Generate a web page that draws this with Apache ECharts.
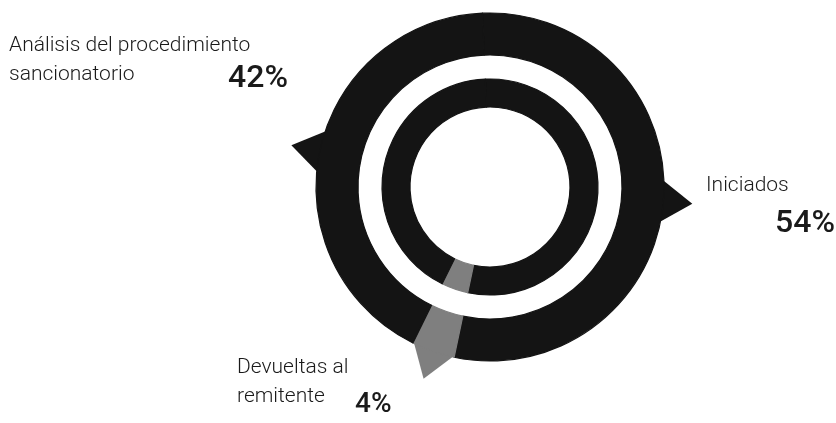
<!DOCTYPE html>
<html>
<head>
<meta charset="utf-8">
<script src="https://cdn.jsdelivr.net/npm/echarts@6/dist/echarts.min.js"></script>
<style>
  html, body { margin: 0; padding: 0; background: #fff; }
  #chart { width: 836px; height: 423px; }
</style>
</head>
<body>
<div id="chart"></div>
<script>
// slices, clockwise from the top
const categories = ['Iniciados', 'Devueltas al\nremitente', 'Análisis del procedimiento\nsancionatorio']
const values = [54, 4, 42]
const sliceColors = ['#141414', '#7f7f7f', '#141414']

const CENTER = [490, 187]
const START = 92.5 // echarts degrees, counter-clockwise from 3 o'clock
const FONT = 'Roboto, "Noto Sans", sans-serif'

const chart = echarts.init(document.getElementById('chart'))

const total = values.reduce((a, b) => a + b, 0)
let acc = 0
const midAngles = values.map(v => {
  const mid = (90 - START) + 360 * (acc + v / 2) / total
  acc += v
  return mid
})

const pieData = categories.map((name, i) => ({
  name,
  value: values[i],
  itemStyle: { color: sliceColors[i], borderColor: sliceColors[i], borderWidth: 1.2 }
}))

const pointerData = midAngles.map((a, i) => ({
  value: [183, a],
  symbolRotate: -a,
  itemStyle: { color: sliceColors[i], opacity: 1 }
}))

// text blocks: x, baseline of first line, alignment, percent x, percent baseline
const labelLayout = [
  { x: 706, y: 193, px: 835, py: 235, palign: 'right', psize: 32 },
  { x: 237, y: 375, px: 355, py: 415, palign: 'left', psize: 28 },
  { x: 9, y: 53, px: 288, py: 90, palign: 'right', psize: 32 }
]

function text(x, baseline, str, size, align, weight) {
  return {
    type: 'text',
    silent: true,
    style: {
      x,
      y: baseline - size * 0.35,
      text: str,
      fill: '#1a1a1a',
      font: `${weight} ${size}px ${FONT}`,
      textAlign: align,
      textVerticalAlign: 'middle'
    }
  }
}

const graphics = []
categories.forEach((name, i) => {
  const l = labelLayout[i]
  name.split('\n').forEach((line, k) => {
    graphics.push(text(l.x, l.y + k * 29, line, 21, 'left', 300))
  })
  graphics.push(text(l.px, l.py, values[i] + '%', l.psize, l.palign, 500))
})

chart.setOption({
  animation: false,
  backgroundColor: '#fff',
  polar: { center: CENTER, radius: 220 },
  angleAxis: { type: 'value', min: 0, max: 360, startAngle: 90, clockwise: true, show: false },
  radiusAxis: { type: 'value', min: 0, max: 220, show: false },
  graphic: graphics,
  series: [
    {
      type: 'scatter',
      coordinateSystem: 'polar',
      symbol: 'triangle',
      symbolSize: [54, 40],
      z: 1,
      silent: true,
      itemStyle: { opacity: 1 },
      data: pointerData
    },
    {
      type: 'pie',
      center: CENTER,
      radius: [132, 174],
      startAngle: START,
      z: 3,
      silent: true,
      label: { show: false },
      labelLine: { show: false },
      data: pieData
    },
    {
      type: 'pie',
      center: CENTER,
      radius: [80, 108],
      startAngle: START,
      z: 3,
      silent: true,
      label: { show: false },
      labelLine: { show: false },
      data: pieData
    }
  ]
})
</script>
</body>
</html>
